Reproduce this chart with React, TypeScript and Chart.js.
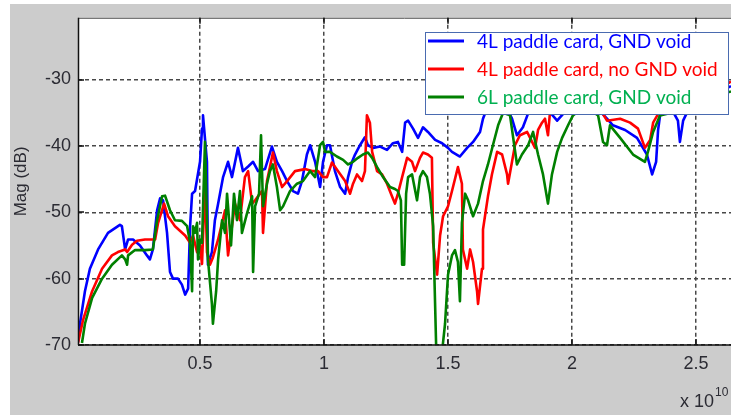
import React, { useEffect, useRef } from "react";
import { Chart, registerables } from "chart.js";

Chart.register(...registerables);

// Frequency in GHz (axis shows units of 1e10 Hz), magnitude in dB
const xTickValues = [5, 10, 15, 20, 25];
const yTickValues = [-70, -60, -50, -40, -30];
const seriesLabels = [
  "4L paddle card, GND void",
  "4L paddle card, no GND void",
  "6L paddle card, GND void",
];
const lineColors = ["#0000ff", "#ff0000", "#008000"];
const legendTextColors = ["#0000ff", "#ff0000", "#00b050"];

const blueFreq = [0.08,0.16,0.36,0.56,0.89,1.29,1.77,1.85,1.98,2.10,2.30,2.58,2.86,2.98,3.10,3.27,3.39,3.51,3.67,3.79,3.91,4.11,4.27,4.40,4.52,4.60,4.68,4.80,5.00,5.08,5.12,5.28,5.32,5.48,5.60,5.73,5.93,6.13,6.29,6.53,6.73,6.94,7.14,7.34,7.62,7.90,8.10,8.31,8.51,8.75,8.95,9.11,9.31,9.44,9.64,9.84,9.96,10.12,10.24,10.44,10.65,10.85,10.97,11.13,11.25,11.45,11.65,11.77,11.98,12.26,12.54,12.78,12.98,13.15,13.27,13.39,13.59,13.79,13.99,14.19,14.48,14.76,15.00,15.16,15.48,15.77,16.01,16.29,16.41,16.69,17.10,17.42,17.58,17.78,18.02,18.23,18.71,19.40,19.92,20.73,21.41,21.65,22.14,22.62,23.02,23.23,23.39,23.47,23.55,23.95,24.27,24.35,24.48,24.76,25.36,25.97,26.41];
const blueMag = [-69.5,-66.8,-61.9,-58.5,-55.6,-53.1,-51.9,-52.1,-55.6,-54.1,-54.1,-55.0,-56.5,-57.1,-55.6,-49.7,-47.9,-48.2,-53.1,-59.0,-60.0,-60.0,-60.9,-62.4,-61.5,-52.1,-47.2,-46.8,-42.4,-37.4,-35.4,-42.4,-57.9,-56.0,-51.2,-48.7,-44.7,-42.4,-44.7,-40.3,-43.8,-43.1,-42.4,-43.8,-43.5,-40.1,-42.4,-43.8,-45.3,-46.8,-47.2,-45.3,-41.3,-39.9,-42.4,-46.2,-42.4,-39.9,-39.9,-43.8,-46.2,-47.2,-44.7,-42.4,-41.3,-39.9,-38.7,-39.9,-40.3,-40.1,-40.6,-39.6,-39.4,-40.9,-36.5,-36.2,-37.4,-38.8,-37.2,-37.9,-39.1,-39.6,-40.3,-40.9,-41.6,-40.3,-39.4,-37.9,-35.9,-33.2,-34.0,-34.7,-35.9,-38.4,-37.2,-35.1,-33.2,-36.2,-34.0,-33.2,-35.9,-36.9,-37.6,-38.8,-41.3,-44.3,-42.4,-37.6,-35.4,-34.0,-36.2,-39.4,-36.2,-34.0,-32.5,-31.8,-31.0];

const redFreq = [0.08,0.28,0.65,1.05,1.45,1.69,1.98,2.06,2.26,2.46,2.78,3.19,3.31,3.55,3.71,3.99,4.40,4.60,4.72,4.88,5.00,5.08,5.16,5.20,5.28,5.40,5.52,5.73,6.01,6.13,6.29,6.41,6.61,6.81,6.94,7.10,7.22,7.50,7.54,7.70,7.82,7.94,8.10,8.31,8.51,8.83,9.23,9.52,9.76,9.96,10.12,10.32,10.56,10.85,11.05,11.17,11.33,11.53,11.65,11.73,11.85,11.94,12.14,12.34,12.54,12.74,12.86,12.98,13.15,13.35,13.55,13.67,13.87,13.99,14.19,14.35,14.40,14.56,14.68,14.80,15.00,15.16,15.40,15.56,15.60,15.77,15.89,16.01,16.17,16.21,16.37,16.41,16.61,16.77,16.98,17.18,17.38,17.42,17.58,17.70,17.90,18.19,18.39,18.51,18.63,18.79,18.91,19.03,19.11,19.52,20.12,20.93,21.41,21.94,22.34,22.66,22.94,23.15,23.27,23.55,24.35,25.16,25.77,26.41];
const redMag = [-69.7,-66.3,-61.9,-58.5,-56.5,-56.0,-55.6,-56.0,-54.9,-54.3,-54.1,-54.1,-51.6,-48.7,-50.6,-52.1,-53.5,-54.6,-53.5,-56.0,-55.0,-57.8,-49.7,-44.7,-56.0,-57.9,-56.8,-54.1,-49.7,-56.5,-52.1,-48.7,-51.2,-44.7,-43.8,-48.7,-48.2,-46.8,-53.1,-45.3,-43.2,-41.0,-43.8,-46.2,-45.3,-43.8,-43.5,-43.8,-43.8,-44.7,-44.7,-42.5,-43.8,-45.3,-47.2,-45.7,-44.3,-45.3,-43.8,-35.4,-36.5,-40.9,-43.8,-44.3,-45.7,-47.6,-48.7,-47.2,-44.7,-41.8,-42.4,-43.8,-41.8,-41.0,-41.3,-41.8,-54.6,-59.4,-53.5,-50.6,-49.1,-46.8,-43.2,-45.7,-55.6,-58.5,-55.6,-57.5,-61.9,-63.8,-58.5,-52.6,-47.6,-44.3,-40.9,-41.3,-44.3,-45.7,-42.4,-39.9,-38.4,-37.9,-39.4,-40.3,-37.6,-36.5,-35.9,-38.4,-35.0,-33.2,-34.0,-33.2,-36.2,-35.9,-36.5,-37.4,-40.3,-39.1,-36.5,-34.7,-34.0,-33.2,-31.8,-30.3];

const greenFreq = [0.24,0.36,0.65,1.05,1.45,1.85,1.98,2.06,2.10,2.38,2.78,3.10,3.27,3.47,3.59,3.79,3.99,4.27,4.48,4.60,4.68,4.72,4.80,4.88,4.92,5.00,5.08,5.20,5.32,5.48,5.52,5.65,5.73,5.89,6.01,6.09,6.13,6.25,6.37,6.49,6.61,6.69,6.90,7.10,7.14,7.22,7.38,7.46,7.54,7.70,7.82,7.94,8.10,8.23,8.35,8.63,8.91,9.15,9.44,9.64,9.84,9.96,10.04,10.24,10.52,10.77,10.97,11.17,11.37,11.57,11.77,11.94,12.14,12.38,12.66,12.86,12.98,13.10,13.15,13.23,13.31,13.39,13.55,13.75,13.87,13.99,14.15,14.27,14.40,14.52,14.56,14.76,14.88,15.00,15.16,15.28,15.40,15.48,15.56,15.69,15.81,16.01,16.21,16.41,16.61,16.81,17.02,17.22,17.50,17.78,17.98,18.23,18.43,18.63,18.83,19.03,19.19,19.40,19.60,19.84,20.04,20.52,21.05,21.25,21.41,21.53,21.94,22.46,22.94,23.06,23.27,23.55,24.35,25.16,25.77,26.41];
const greenMag = [-69.7,-66.8,-62.9,-60.0,-57.9,-56.5,-57.1,-57.9,-56.5,-55.7,-55.7,-55.6,-51.2,-47.6,-47.5,-49.7,-51.2,-51.3,-52.1,-54.6,-61.9,-52.1,-53.1,-51.6,-57.1,-54.1,-54.6,-39.4,-57.1,-63.8,-66.8,-61.9,-57.1,-51.2,-53.1,-47.2,-49.1,-55.0,-47.2,-51.2,-46.8,-53.1,-50.1,-47.6,-59.0,-49.1,-47.2,-38.4,-49.1,-45.7,-43.8,-42.8,-46.2,-49.7,-49.1,-46.8,-45.7,-45.3,-43.8,-44.7,-39.9,-39.4,-40.9,-40.9,-41.6,-42.1,-42.8,-42.4,-41.8,-41.3,-41.0,-41.8,-43.2,-44.7,-46.2,-46.5,-46.8,-48.2,-57.9,-57.9,-47.2,-44.7,-44.3,-48.2,-44.7,-43.8,-44.7,-47.2,-52.1,-70.0,-71.0,-71.0,-66.8,-59.4,-56.5,-55.7,-57.5,-63.4,-51.6,-47.2,-48.2,-50.6,-48.7,-45.3,-42.8,-39.9,-36.9,-35.0,-35.4,-42.8,-41.3,-39.9,-37.9,-41.3,-44.3,-48.7,-44.3,-40.9,-38.8,-36.9,-35.4,-34.0,-35.4,-39.4,-39.9,-36.9,-38.8,-41.3,-42.4,-40.9,-37.9,-35.4,-34.7,-34.0,-32.5,-31.8];

const toPoints = (xs: number[], ys: number[]) =>
  xs.slice(0, Math.min(xs.length, ys.length)).map((x, i) => ({ x, y: ys[i] }));

const TICK_FONT = "Liberation Sans, Arial, sans-serif";
const TEXT_COLOR = "#2b2b33";

const backgroundPlugin = {
  id: "figureBackground",
  beforeDraw(chart: any) {
    const { ctx, width, height, chartArea } = chart;
    ctx.save();
    ctx.fillStyle = "#ffffff";
    ctx.fillRect(0, 0, width, height);
    ctx.fillStyle = "#cccccc";
    ctx.fillRect(10, 4, width - 10, height - 4);
    ctx.fillStyle = "#ffffff";
    ctx.fillRect(chartArea.left, chartArea.top, chartArea.right - chartArea.left, chartArea.bottom - chartArea.top);
    ctx.restore();
  },
};

const framePlugin = {
  id: "axesFrame",
  afterDatasetsDraw(chart: any) {
    const { ctx, chartArea, scales } = chart;
    const { left, right, top, bottom } = chartArea;
    ctx.save();
    ctx.lineWidth = 1;
    ctx.strokeStyle = "#555555";
    ctx.beginPath();
    ctx.moveTo(left, top + 0.5);
    ctx.lineTo(right, top + 0.5);
    ctx.stroke();
    ctx.strokeStyle = "#111111";
    ctx.lineWidth = 1.5;
    ctx.beginPath();
    ctx.moveTo(left + 0.5, top);
    ctx.lineTo(left + 0.5, bottom);
    ctx.moveTo(left, bottom);
    ctx.lineTo(right, bottom);
    ctx.stroke();
    ctx.lineWidth = 1.5;
    ctx.beginPath();
    xTickValues.forEach((v) => {
      const px = Math.round(scales.x.getPixelForValue(v));
      ctx.moveTo(px, bottom);
      ctx.lineTo(px, bottom - 6);
      ctx.moveTo(px, top);
      ctx.lineTo(px, top + 6);
    });
    yTickValues.forEach((v) => {
      const py = Math.round(scales.y.getPixelForValue(v));
      ctx.moveTo(left, py);
      ctx.lineTo(left + 6, py);
    });
    ctx.stroke();
    ctx.restore();
  },
  afterDraw(chart: any) {
    const { ctx } = chart;
    // legend box
    ctx.save();
    const bx = 425, by = 32, bw = 303, bh = 82;
    ctx.fillStyle = "#ffffff";
    ctx.fillRect(bx, by, bw, bh);
    ctx.strokeStyle = "#4a6bb0";
    ctx.lineWidth = 1;
    ctx.strokeRect(bx + 0.5, by + 0.5, bw, bh);
    const rows = [41, 69, 97];
    seriesLabels.forEach((label, i) => {
      ctx.strokeStyle = lineColors[i];
      ctx.lineWidth = 3;
      ctx.beginPath();
      ctx.moveTo(428, rows[i]);
      ctx.lineTo(464, rows[i]);
      ctx.stroke();
      ctx.fillStyle = legendTextColors[i];
      ctx.font = "19px Lato, 'Open Sans', sans-serif";
      ctx.textBaseline = "middle";
      ctx.textAlign = "left";
      ctx.fillText(label, 477, rows[i] + 1);
    });
    // exponent label
    ctx.fillStyle = TEXT_COLOR;
    ctx.textBaseline = "alphabetic";
    ctx.font = `18px ${TICK_FONT}`;
    ctx.fillText("x 10", 680, 407);
    ctx.font = `12px ${TICK_FONT}`;
    ctx.fillText("10", 715, 396);
    ctx.restore();
  },
};

export default function App() {
  const canvasRef = useRef<HTMLCanvasElement>(null);

  useEffect(() => {
    const canvas = canvasRef.current;
    if (!canvas) return;
    const chart = new Chart(canvas, {
      type: "line",
      data: {
        datasets: [
          { label: seriesLabels[0], data: toPoints(blueFreq, blueMag), borderColor: lineColors[0], order: 2 },
          { label: seriesLabels[1], data: toPoints(redFreq, redMag), borderColor: lineColors[1], order: 1 },
          { label: seriesLabels[2], data: toPoints(greenFreq, greenMag), borderColor: lineColors[2], order: 0 },
        ].map((d) => ({
          ...d,
          borderWidth: 2.6,
          pointRadius: 0,
          tension: 0,
          fill: false,
          clip: 0,
          borderJoinStyle: "round" as const,
        })),
      },
      options: {
        responsive: false,
        animation: false,
        devicePixelRatio: 1,
        layout: { padding: { top: 10, left: 0, right: 0, bottom: 0 } },
        plugins: { legend: { display: false }, tooltip: { enabled: false } },
        scales: {
          x: {
            type: "linear",
            min: 0.08,
            max: 26.41,
            afterBuildTicks: (s: any) => {
              s.ticks = xTickValues.map((value) => ({ value }));
            },
            afterFit: (s: any) => {
              s.height = 70;
            },
            grid: { color: "#484848", lineWidth: 1.5, drawTicks: false },
            border: { display: false, dash: [4, 3] },
            ticks: {
              color: TEXT_COLOR,
              font: { family: TICK_FONT, size: 18 },
              padding: 8,
              maxRotation: 0,
              callback: (v: any) => String(Number(v) / 10),
            },
          },
          y: {
            type: "linear",
            min: -70,
            max: -20.7,
            afterBuildTicks: (s: any) => {
              s.ticks = yTickValues.map((value) => ({ value }));
            },
            afterFit: (s: any) => {
              s.width = 78;
            },
            grid: { color: "#484848", lineWidth: 1.5, drawTicks: false },
            border: { display: false, dash: [4, 3] },
            ticks: {
              color: TEXT_COLOR,
              font: { family: TICK_FONT, size: 18 },
              padding: 7,
            },
            title: {
              display: true,
              text: "Mag (dB)",
              color: TEXT_COLOR,
              font: { family: TICK_FONT, size: 17 },
              padding: { top: 11, bottom: 0 },
            },
          },
        },
      },
      plugins: [backgroundPlugin, framePlugin],
    });
    return () => chart.destroy();
  }, []);

  return (
    <div style={{ position: "absolute", left: 0, top: 0, width: 731, height: 415, background: "#ffffff" }}>
      <canvas ref={canvasRef} width={731} height={415} style={{ display: "block", width: 731, height: 415 }} />
    </div>
  );
}
